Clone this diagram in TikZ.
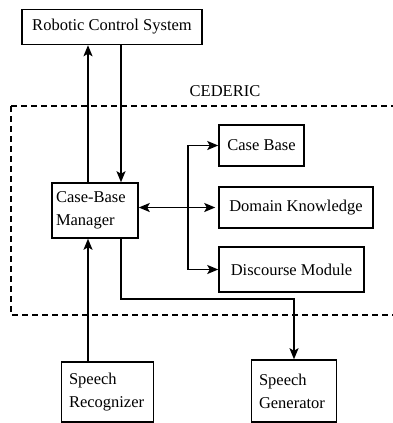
\documentclass[tikz,border=0pt]{standalone}
\usepackage{fontspec}
\setmainfont{Liberation Serif}
\usepackage{tikz}
\usetikzlibrary{arrows.meta, positioning, calc}

\begin{document}
\begin{tikzpicture}[
    x=1pt, y=-1pt,
    box/.style={
        draw, line width=1.5pt, inner sep=4pt,
        font=\fontsize{16.5}{23}\selectfont
    },
    leftbox/.style={box, align=left, text width=#1},
    arr/.style={-{Stealth[length=11pt, width=9pt, inset=2.5pt]}, line width=1.6pt},
    dblarr/.style={{Stealth[length=11pt, width=9pt, inset=2.5pt]}-{Stealth[length=11pt, width=9pt, inset=2.5pt]}, line width=1.6pt},
    lbl/.style={font=\fontsize{16.5}{23}\selectfont}
]
    \useasboundingbox (0,0) rectangle (393,423);

    % CEDERIC frame
    \draw[line width=1.5pt, dash pattern=on 6pt off 4pt] (11,106) rectangle (405,315);
    \node[lbl] (ced) at (225,91) {CEDERIC};

    % Boxes
    \node[box, minimum width=180pt, minimum height=35pt] (rcs) at (112,27) {Robotic Control System};
    \node[leftbox=78pt, minimum height=55pt] (cbm) at (95,210.5) {Case-Base\\Manager};
    \node[box, minimum width=85pt, minimum height=41pt] (cb) at (261.5,145.5) {Case Base};
    \node[box, minimum width=154pt, minimum height=41pt] (dk) at (296,207.5) {Domain Knowledge};
    \node[box, minimum width=145pt, minimum height=45pt] (dm) at (291.5,269.5) {Discourse Module};
    \node[leftbox=77pt, inner sep=7.5pt, minimum height=60pt] (sr) at (107.5,392) {Speech\\Recognizer};
    \node[leftbox=70pt, inner sep=7.5pt, minimum height=62pt] (sg) at (294,391) {Speech\\Generator};

    % Helper columns and rows
    \coordinate (lx) at (88,0);
    \coordinate (rx) at (121,0);
    \coordinate (tx) at (188,0);
    \coordinate (gy) at (0,299);

    % Control system links
    \draw[arr] (cbm.north -| lx) -- (rcs.south -| lx);
    \draw[arr] (rcs.south -| rx) -- (cbm.north -| rx);

    % Knowledge sources
    \draw[dblarr, shorten >=3pt] (cbm.east |- dk) -- (dk.west);
    \draw[arr] (tx |- dk) |- (cb.west);
    \draw[arr] (tx |- dk) |- (dm.west);

    % Speech links
    \draw[arr] (sr.north -| lx) -- (cbm.south -| lx);
    \draw[arr] (cbm.south -| rx) |- (gy -| sg.north) -- (sg.north);
\end{tikzpicture}
\end{document}
